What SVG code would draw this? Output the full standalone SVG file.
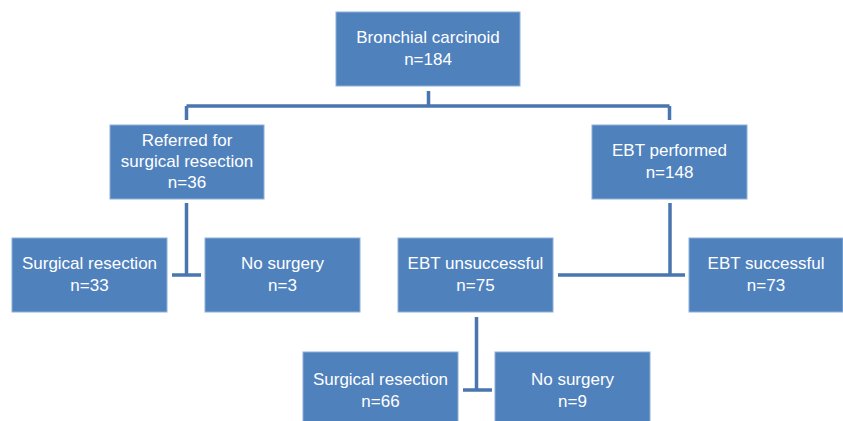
<svg xmlns="http://www.w3.org/2000/svg" width="843" height="421" viewBox="0 0 843 421">
<style>
.box{fill:#4F81BD;stroke:#8fb0d8;stroke-width:1}
.t{font-family:"Liberation Sans",Arial,sans-serif;font-size:17px;fill:#ffffff;text-anchor:middle}
.c{fill:none;stroke:#4A76B0;stroke-width:3.5}
</style>
<rect width="843" height="421" fill="#ffffff"/>
<g id="connectors">
<path class="c" d="M428.5,91 V106 M186.5,106 H669.5 M186.5,106 V120 M669.5,106 V120"/>
<path class="c" d="M186.5,203 V275 M172,275 H201"/>
<path class="c" d="M670,203 V275 M558,275 H685"/>
<path class="c" d="M476.5,317 V390 M463,390 H492"/>
</g>
<g id="n-root"><rect class="box" x="336" y="12" width="184" height="74"/>
<text class="t" x="428" y="43">Bronchial carcinoid</text><text class="t" x="428" y="65">n=184</text></g>
<g id="n-referred"><rect class="box" x="110" y="125" width="154" height="74"/>
<text class="t" x="187" y="146">Referred for</text><text class="t" x="187" y="167">surgical resection</text><text class="t" x="187" y="188">n=36</text></g>
<g id="n-ebt"><rect class="box" x="592" y="125" width="155" height="74"/>
<text class="t" x="669.5" y="156">EBT performed</text><text class="t" x="669.5" y="178">n=148</text></g>
<g id="n-surg1"><rect class="box" x="12" y="238" width="155" height="74"/>
<text class="t" x="89.5" y="269">Surgical resection</text><text class="t" x="89.5" y="291">n=33</text></g>
<g id="n-nosurg1"><rect class="box" x="205" y="238" width="155" height="74"/>
<text class="t" x="282.5" y="269">No surgery</text><text class="t" x="282.5" y="291">n=3</text></g>
<g id="n-unsucc"><rect class="box" x="398" y="238" width="155" height="74"/>
<text class="t" x="475.5" y="269">EBT unsuccessful</text><text class="t" x="475.5" y="291">n=75</text></g>
<g id="n-succ"><rect class="box" x="689" y="238" width="154" height="74"/>
<text class="t" x="766" y="269">EBT successful</text><text class="t" x="766" y="291">n=73</text></g>
<g id="n-surg2"><rect class="box" x="303" y="352" width="155" height="74"/>
<text class="t" x="380.5" y="385">Surgical resection</text><text class="t" x="380.5" y="407">n=66</text></g>
<g id="n-nosurg2"><rect class="box" x="495" y="352" width="155" height="74"/>
<text class="t" x="572.5" y="385">No surgery</text><text class="t" x="572.5" y="407">n=9</text></g>
</svg>
